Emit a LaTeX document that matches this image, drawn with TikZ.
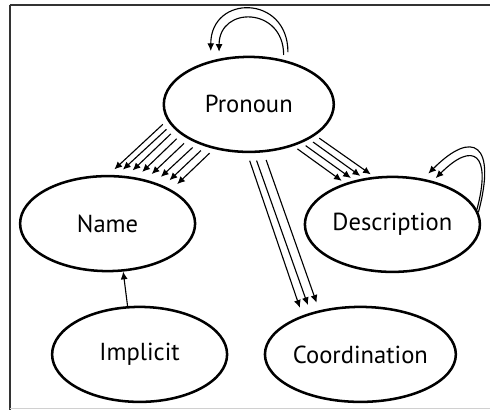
\documentclass[tikz,border=0pt]{standalone}
\usepackage{fontspec}
\setmainfont{PT Sans}
\usetikzlibrary{arrows.meta,shapes.geometric}
\definecolor{FrameGray}{HTML}{333333}
\definecolor{EdgeGray}{HTML}{D0D0D0}

\begin{document}
\begin{tikzpicture}[font=\fontsize{17.5}{19}\selectfont,
    class/.style={ellipse,draw,line width=1.8pt,
          minimum width=4.375cm,minimum height=2.375cm,inner sep=0pt},
    link/.style={-{Latex[length=5.5pt,width=5pt]},line width=0.8pt}]
    \useasboundingbox (0,0) rectangle (12.25,10.25);
    % frame
    \draw[FrameGray,line width=1.2pt] (0.24,10.125)--(12.25,10.125);
    \draw[FrameGray,line width=1.5pt] (0.24,10.125)--(0.24,0);
    \draw[EdgeGray,line width=0.6pt] (0.24,0.04)--(12.25,0.04);
    % classes
    \node[class,minimum width=4.25cm] (pronoun) at (6.22,7.64) {Pronoun};
    \node[class] (name)     at (2.69,4.66) {Name};
    \node[class] (descr)    at (9.81,4.64) {Description};
    \node[class] (implicit) at (3.49,1.39) {Implicit};
    \node[class] (coord)    at (9.01,1.39) {Coordination};
    % links
    \foreach \a/\b in {191.4/89.5,195.3/79.3,199.7/68.9,204.9/58.6,
                       210.7/49.3,217.2/41.1,224.4/34.2,232.1/28.4}
      \draw[link,shorten <=0.15cm,shorten >=0.2cm] (pronoun.\a) -- (name.\b);
    \foreach \a/\b in {317.8/139.9,324.5/131.7,330.4/122.2,335.3/111.7}
      \draw[link,shorten <=0.12cm,shorten >=0.1cm] (pronoun.\a) -- (descr.\b);
    \foreach \a/\b in {268/146.4,276.5/140.2,287.6/133.1}
      \draw[link,shorten <=0.2cm,shorten >=0.2cm] (pronoun.\a) -- (coord.\b);
    \draw[link] (implicit.104) -- (name.288);
    % self loops
    \draw[link,shorten <=0.22cm,shorten >=0.24cm]
      (pronoun.48) to[out=90,in=90,looseness=2.2] (pronoun.131);
    \draw[link,shorten <=0.12cm,shorten >=0.17cm]
      (pronoun.52) to[out=90,in=90,looseness=2.1] (pronoun.123);
    \draw[link,shorten >=0.18cm]
      (descr.8) to[out=75,in=45,looseness=2.8] (descr.56);
    \draw[link,shorten >=0.1cm]
      (descr.10) to[out=75,in=45,looseness=2.8] (descr.47);
\end{tikzpicture}
\end{document}
